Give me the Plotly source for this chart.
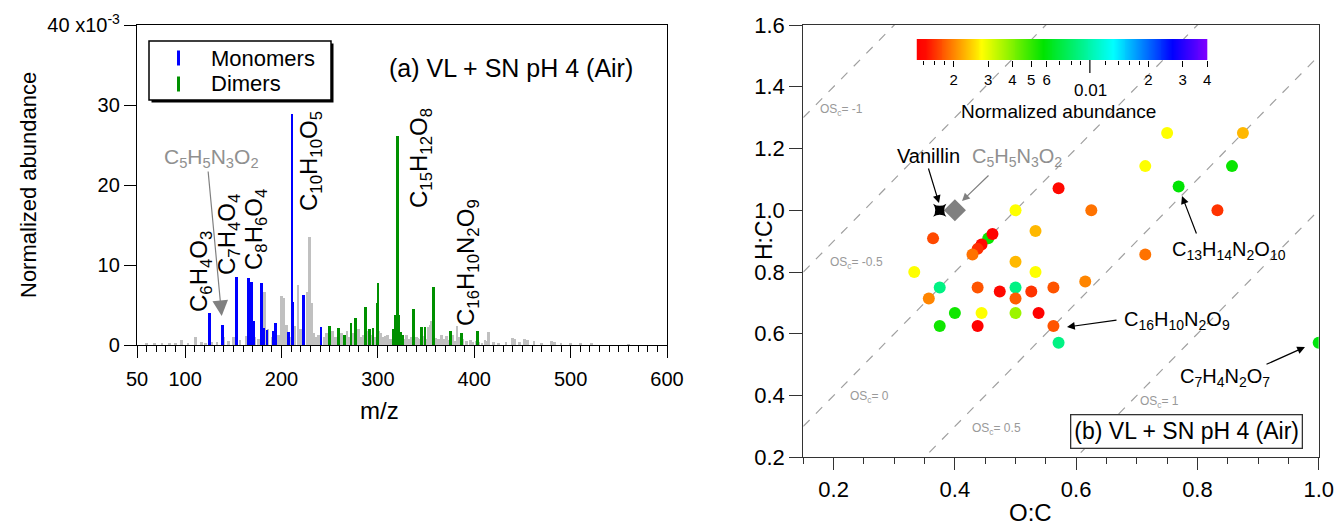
import numpy as np
import plotly.graph_objects as go

# ---------------- Panel (a): mass spectrum (normalized abundance, x10^-3) ----------------
mono_mz = [125, 139, 153, 166, 169, 171, 179, 181, 185, 192, 194, 207, 211, 212, 223, 241]
mono_h = [4.0, 2.5, 8.5, 8.4, 7.9, 3.0, 7.8, 2.1, 1.9, 1.7, 2.7, 1.6, 28.9, 5.4, 6.2, 2.3]

dimer_mz = [250, 259, 265, 272, 277, 287, 291, 295, 299, 300, 316, 318.5, 320.5, 322, 324,
            326, 337, 345, 349, 358, 375, 387, 403]
dimer_h = [2.4, 2.1, 1.3, 2.7, 3.4, 4.8, 2.0, 2.1, 5.2, 7.7, 2.0, 3.7, 26.1, 3.7, 1.6,
           1.3, 4.5, 2.2, 2.2, 7.2, 1.8, 1.5, 1.7]

other_mz = [60, 68, 76, 84, 90, 96, 103, 111, 117, 121, 127, 133, 140, 145, 150, 157, 163,
            168, 172, 176, 182, 186, 190, 197, 200, 202, 205, 209, 214, 217, 220, 227, 229,
            231, 233, 236, 238, 241, 244, 247, 249, 251, 253, 256, 258, 260, 262, 264, 266,
            268, 270, 273, 275, 278, 280, 283, 285, 287, 289, 291, 293, 295, 297, 299, 301,
            303, 304, 306, 308, 310, 313, 315, 317, 319, 321, 323, 325, 328, 330, 332, 333,
            335, 338, 340, 341, 343, 346, 348, 350, 352, 354, 355, 356, 360, 362, 364, 366,
            369, 371, 374, 376, 378, 380, 382, 384, 388, 392, 396, 398, 402, 405, 408, 411,
            412, 415, 420, 425, 433, 440, 442, 447, 452, 455, 462, 470, 480, 483, 490, 500,
            510, 522, 560]
other_h = [0.2, 0.15, 0.25, 0.2, 0.3, 0.6, 0.3, 1.0, 0.35, 0.3, 0.35, 0.4, 1.0, 0.5, 1.0,
           0.6, 1.1, 1.2, 1.0, 0.8, 6.6, 2.0, 1.0, 1.2, 6.1, 5.9, 2.5, 1.0, 2.4, 7.5, 2.0,
           6.6, 13.5, 5.2, 1.5, 1.0, 1.2, 0.8, 1.0, 1.5, 1.2, 0.6, 1.8, 1.0, 0.8, 1.2, 1.5,
           0.7, 1.0, 1.8, 1.0, 0.8, 1.5, 1.0, 2.0, 1.0, 1.3, 0.7, 1.8, 0.6, 1.2, 0.9, 1.0,
           0.7, 1.8, 1.5, 0.8, 1.0, 1.1, 1.3, 0.8, 0.6, 0.9, 1.0, 1.4, 1.2, 0.9, 0.8, 1.2,
           0.6, 0.8, 1.0, 0.7, 1.0, 0.9, 0.8, 0.6, 1.1, 0.7, 2.2, 2.5, 3.0, 2.8, 0.9, 0.8,
           0.8, 1.2, 0.8, 1.1, 0.6, 0.9, 1.3, 0.5, 2.4, 1.0, 0.8, 0.5, 0.6, 0.4, 0.5, 0.4,
           0.3, 0.6, 0.5, 1.6, 0.4, 0.3, 0.4, 0.9, 0.7, 0.4, 0.8, 0.6, 0.5, 0.3, 0.5, 0.4,
           0.2, 0.25, 0.2, 0.15, 0.1]

x_a_ticks = [50, 100, 200, 300, 400, 500, 600]
y_a_ticks = [0, 10, 20, 30, 40]
y_a_text = ["0", "10", "20", "30", "40 x10<sup>-3</sup>"]
legend_names = ["Monomers", "Dimers"]
legend_colors = ["#0000ff", "#009000"]

# ---------------- Panel (b): Van Krevelen ----------------
oc = [0.571, 0.625, 0.5, 0.533, 0.364, 0.455, 0.462, 0.444, 0.4375, 0.429, 0.5, 0.333,
      0.533, 0.375, 0.4375, 0.474, 0.5, 0.5, 0.526, 0.5625, 0.615, 0.357, 0.4, 0.444, 0.5,
      0.538, 0.375, 0.4375, 0.5625, 0.571, 0.75, 0.875, 0.714, 0.857, 0.769, 0.833, 0.714, 1.0]
hc = [1.071, 1.0, 1.0, 0.933, 0.909, 0.909, 0.923, 0.889, 0.875, 0.857, 0.833, 0.8,
      0.8, 0.75, 0.75, 0.737, 0.75, 0.714, 0.737, 0.75, 0.769, 0.714, 0.667, 0.667, 0.667,
      0.667, 0.625, 0.625, 0.625, 0.571, 1.25, 1.25, 1.143, 1.143, 1.077, 1.0, 0.857, 0.571]
abund = [0.0014, 0.0019, 0.0028, 0.0023, 0.0017, 0.0056, 0.0013, 0.00142, 0.00158, 0.0019,
         0.0023, 0.0028, 0.0028, 0.0088, 0.00175, 0.0014, 0.0088, 0.0018, 0.0016, 0.00175,
         0.0020, 0.0020, 0.0055, 0.0028, 0.0037, 0.0013, 0.0055, 0.0013, 0.00175, 0.0088,
         0.0028, 0.0023, 0.0028, 0.0056, 0.0058, 0.0016, 0.0019, 0.0060]

ref_names = ["Vanillin", "C5H5N3O2"]
ref_oc = [0.375, 0.4]
ref_hc = [1.0, 1.0]

osc_levels = [-1, -0.5, 0, 0.5, 1]
osc_text = ["-1", "-0.5", "0", "0.5", "1"]

x_b_ticks = [0.2, 0.4, 0.6, 0.8, 1.0]
y_b_ticks = [0.2, 0.4, 0.6, 0.8, 1.0, 1.2, 1.4, 1.6]

cb_min, cb_max = 0.00129, 0.0401
cb_major = [0.002, 0.003, 0.004, 0.005, 0.006, 0.02, 0.03, 0.04]
cb_major_text = ["2", "3", "4", "5", "6", "2", "3", "4"]
cb_minor = [0.0014, 0.0016, 0.0018, 0.007, 0.008, 0.009, 0.012, 0.014, 0.016, 0.018]

# ---------------- layout helpers ----------------
W, H = 1337, 531
FONT = "Liberation Sans, Arial, sans-serif"


def px(x):
    return x / W


def py(y):
    return 1 - y / H


colorscale = [[0.0, "rgb(255,0,0)"], [0.03, "rgb(255,10,0)"], [0.225, "rgb(255,255,0)"],
              [0.435, "rgb(0,228,0)"], [0.675, "rgb(0,255,255)"], [0.88, "rgb(0,0,255)"],
              [1.0, "rgb(128,0,255)"]]
lo, hi = np.log10(cb_min), np.log10(cb_max)

fig = go.Figure()

BW = 2.8
fig.add_trace(go.Bar(x=other_mz, y=other_h, width=BW, marker=dict(color="#c0c0c0", line_width=0),
                     name="Others", showlegend=False, xaxis="x", yaxis="y"))
fig.add_trace(go.Bar(x=mono_mz, y=mono_h, width=BW, marker=dict(color=legend_colors[0], line_width=0),
                     name=legend_names[0], showlegend=False, xaxis="x", yaxis="y"))
fig.add_trace(go.Bar(x=dimer_mz, y=dimer_h, width=BW, marker=dict(color=legend_colors[1], line_width=0),
                     name=legend_names[1], showlegend=False, xaxis="x", yaxis="y"))

# OSc reference lines
oc_line = np.array([0.15, 1.0])
for lvl in osc_levels:
    fig.add_trace(go.Scatter(x=oc_line, y=2 * oc_line - lvl, mode="lines", showlegend=False,
                             line=dict(color="#a0a0a0", width=1.2, dash="dash"),
                             xaxis="x2", yaxis="y2"))

# points
fig.add_trace(go.Scatter(x=oc, y=hc, mode="markers", showlegend=False, xaxis="x2", yaxis="y2",
                         marker=dict(size=12, color=np.log10(abund), colorscale=colorscale,
                                     cmin=lo, cmax=hi, line_width=0)))
fig.add_trace(go.Scatter(x=ref_oc[1:], y=ref_hc[1:], mode="markers", showlegend=False,
                         xaxis="x2", yaxis="y2", name=ref_names[1],
                         marker=dict(symbol="diamond", size=17, color="#808080")))
fig.add_trace(go.Scatter(x=ref_oc[:1], y=ref_hc[:1], mode="markers", showlegend=False,
                         xaxis="x2", yaxis="y2", name=ref_names[0],
                         marker=dict(symbol="star-square", size=12, color="black")))

# colour bar strip
cb_x = np.linspace(lo, hi, 300)
fig.add_trace(go.Heatmap(x=cb_x, y=[0.5], z=[cb_x], colorscale=colorscale, zmin=lo, zmax=hi,
                         showscale=False, xaxis="x3", yaxis="y3", hoverinfo="skip"))

font_a = dict(family=FONT, size=20, color="black")
font_b = dict(family=FONT, size=22, color="black")

common = dict(showgrid=False, zeroline=False, automargin=False, showline=True, mirror=True,
              ticks="outside", tickwidth=1.3, linewidth=1.3)

fig.update_layout(
    template="none",
    width=W, height=H, margin=dict(l=0, r=0, t=0, b=0, pad=0), autosize=False,
    paper_bgcolor="white", plot_bgcolor="white",
    font=dict(family=FONT, color="black"),
    barmode="overlay", bargap=0,
    showlegend=False,
    xaxis=dict(domain=[px(137), px(667)], range=[50, 600], anchor="y",
               linecolor="black", ticklen=12, tickcolor="black", ticklabelstandoff=4,
               tickvals=x_a_ticks, ticktext=[str(v) for v in x_a_ticks], tickfont=font_a,
               minor=dict(ticks="outside", ticklen=6, tickwidth=1.3, tickcolor="black",
                          tick0=0, dtick=10),
               **common),
    yaxis=dict(domain=[py(345), py(25)], range=[0, 40], anchor="x",
               linecolor="black", ticklen=12, tickcolor="black",
               tickvals=y_a_ticks, ticktext=y_a_text, tickfont=font_a,
               **common),
    xaxis2=dict(domain=[px(803.3), px(1318.7)], range=[0.15, 1.0], anchor="y2",
                linecolor="#333333", ticklen=12, tickcolor="#333333",
                tickvals=x_b_ticks, ticktext=["%.1f" % v for v in x_b_ticks], tickfont=font_b,
                minor=dict(ticks="outside", ticklen=6, tickwidth=1.3, tickcolor="#333333",
                           tick0=0, dtick=0.05),
                **common),
    yaxis2=dict(domain=[py(457.3), py(25)], range=[0.2, 1.6], anchor="x2",
                linecolor="#333333", ticklen=13, tickcolor="#333333",
                tickvals=y_b_ticks, ticktext=["%.1f" % v for v in y_b_ticks], tickfont=font_b,
                **common),
    xaxis3=dict(domain=[px(916.7), px(1207.3)], range=[lo, hi], anchor="y3",
                showline=False, ticks="outside", ticklen=6, tickwidth=1.2, tickcolor="black",
                tickvals=np.log10(cb_major), ticktext=cb_major_text,
                tickfont=dict(family=FONT, size=15, color="black"),
                minor=dict(ticks="outside", ticklen=3.5, tickwidth=1.2, tickcolor="black",
                           tickmode="array", tickvals=list(np.log10(cb_minor))),
                showgrid=False, zeroline=False, automargin=False, fixedrange=True),
    yaxis3=dict(domain=[py(60), py(39)], range=[0, 1], anchor="x3", visible=False,
                automargin=False, fixedrange=True),
)

# long tick for 0.01 on colour bar
fig.add_shape(type="line", xref="x3", yref="paper", x0=-2, x1=-2, y0=py(60), y1=py(73),
              line=dict(color="black", width=1.2))

# legend box (with drop shadow) for panel (a)
fig.add_shape(type="rect", xref="paper", yref="paper", x0=px(151.5), x1=px(333.5),
              y0=py(102.5), y1=py(43.5), fillcolor="black", line_width=0, layer="above")
fig.add_shape(type="rect", xref="paper", yref="paper", x0=px(149), x1=px(331),
              y0=py(100), y1=py(41), fillcolor="white", line=dict(color="black", width=1.5),
              layer="above")
for i, col in enumerate(legend_colors):
    yc = 58 + 26 * i
    fig.add_shape(type="line", xref="paper", yref="paper", x0=px(178.5), x1=px(178.5),
                  y0=py(yc + 7.5), y1=py(yc - 7.5), line=dict(color=col, width=3), layer="above")

annotations = []


def text(x, y, s, size, color="black", angle=0, xanchor="center"):
    annotations.append(dict(x=px(x), y=py(y), xref="paper", yref="paper", text=s,
                            showarrow=False, textangle=angle, xanchor=xanchor, yanchor="middle",
                            font=dict(family=FONT, size=size, color=color)))


def arrow(tip, tail, color, size=1.0, width=1.2):
    annotations.append(dict(x=px(tip[0]), y=py(tip[1]), xref="paper", yref="paper", text="",
                            showarrow=True, ax=tail[0] - tip[0], ay=tail[1] - tip[1],
                            axref="pixel", ayref="pixel", arrowhead=2, arrowsize=size,
                            arrowwidth=width, arrowcolor=color))


for i, nm in enumerate(legend_names):
    text(209, 58 + 26 * i, nm, 22, xanchor="left")

# axis titles
text(28, 185, "Normalized abundance", 22, angle=-90)
text(380, 410, "m/z", 24)
text(764, 240, "H:C", 23, angle=-90)
text(1030, 512, "O:C", 24)

# panel (a) labels
text(511, 68, "(a) VL + SN pH 4 (Air)", 25)
text(200, 272, "C<sub>6</sub>H<sub>4</sub>O<sub>3</sub>", 24, angle=-90)
text(229, 235, "C<sub>7</sub>H<sub>4</sub>O<sub>4</sub>", 24, angle=-90)
text(255, 230, "C<sub>8</sub>H<sub>6</sub>O<sub>4</sub>", 24, angle=-90)
text(310, 161, "C<sub>10</sub>H<sub>10</sub>O<sub>5</sub>", 24, angle=-90)
text(420, 158, "C<sub>15</sub>H<sub>12</sub>O<sub>8</sub>", 24, angle=-90)
text(467, 263, "C<sub>16</sub>H<sub>10</sub>N<sub>2</sub>O<sub>9</sub>", 24, angle=-90)
text(211, 158, "C<sub>5</sub>H<sub>5</sub>N<sub>3</sub>O<sub>2</sub>", 21, color="#909090")
arrow((221.7, 316), (208, 170), "#808080", size=2.6, width=1.2)

# panel (b) labels
text(1090, 90, "0.01", 17)
text(1058, 112, "Normalized abundance", 19)
text(928, 156, "Vanillin", 20)
text(1017, 157, "C<sub>5</sub>H<sub>5</sub>N<sub>3</sub>O<sub>2</sub>", 20, color="#909090")
arrow((939, 203), (928, 167), "black", size=1.3, width=1.2)
arrow((962, 201), (990, 174), "#808080", size=1.3, width=1.2)
text(1229, 250, "C<sub>13</sub>H<sub>14</sub>N<sub>2</sub>O<sub>10</sub>", 20)
arrow((1182, 196), (1197, 235), "black", size=1.3, width=1.2)
text(1177, 320, "C<sub>16</sub>H<sub>10</sub>N<sub>2</sub>O<sub>9</sub>", 20)
arrow((1067, 327), (1118, 320), "black", size=1.3, width=1.2)
text(1225, 377, "C<sub>7</sub>H<sub>4</sub>N<sub>2</sub>O<sub>7</sub>", 20)
arrow((1305, 347), (1265, 365), "black", size=1.3, width=1.2)

osc_pos = [(842, 110), (856, 263), (869, 397), (996, 429), (1159, 402)]
for (xx, yy), t in zip(osc_pos, osc_text):
    text(xx, yy, "OS<sub>c</sub>= " + t, 12, color="#999999")

annotations.append(dict(x=px(1186), y=py(431), xref="paper", yref="paper",
                        text="(b) VL + SN pH 4 (Air)", showarrow=False, xanchor="center",
                        yanchor="middle", bgcolor="white", bordercolor="#333333", borderwidth=1.3,
                        borderpad=3, font=dict(family=FONT, size=23, color="black")))

fig.update_layout(annotations=annotations)

fig.write_html("out.html", config={"displayModeBar": False, "responsive": False},
               post_script="document.body.style.margin='0';")
